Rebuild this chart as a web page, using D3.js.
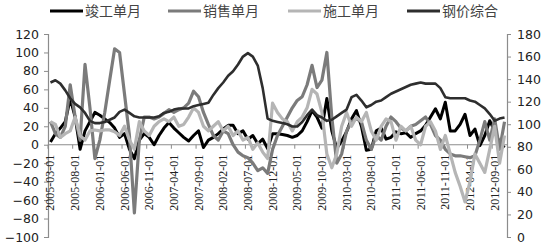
<!DOCTYPE html>
<html>
<head>
<meta charset="utf-8">
<script src="https://cdn.jsdelivr.net/npm/d3@7"></script>
<style>
  body { margin: 0; background: #fff; }
  svg { display: block; }
</style>
</head>
<body>
<svg id="svg"></svg>
<script>
// monthly categories 2005-03 .. 2012-11
const months = [];
for (let y = 2005, m = 3; y < 2012 || (y === 2012 && m <= 11); m++) {
  if (m > 12) { m = 1; y++; }
  months.push(`${y}-${String(m).padStart(2, "0")}-01`);
}

const seriesNames = ["竣工单月", "销售单月", "施工单月", "钢价综合"];

const completion = [3, 12, 18, 25, 50, 30, -5, 15, 25, 35, 32, 28, 24, 18, 8, 12, -5, -15, 5, 12,
  8, 0, 10, 18, 24, 18, 13, 8, 4, 10, 15, -3, 5, 8, 12, 17, 21, 21, 12, 15,
  6, 10, 1, 6, -4, 12, 12, 11, 10, 8, 10, 15, 25, 37, 30, 18, 50, 15, -4, 4,
  14, 28, 37, 20, -6, -5, 15, 18, 6, 8, 14, 12, 13, 8, 12, 15, 21, 30, 39, 28,
  46, 15, 15, 22, 33, 10, 17, -1, 10, 26, 15, 2, -3];

const sales = [25, 12, 8, 20, 65, 30, 5, 87, 40, -15, 5, 35, 70, 104, 100, 55, 10, -74, 5, 30,
  30, 28, 30, 34, 38, 35, 38, 40, 45, 58, 52, 35, 22, 10, 5, 15, 12, 0, -8, -12,
  -14, -20, -28, -25, -31, -5, 10, 20, 30, 40, 48, 52, 65, 86, 62, 70, 100, 30, -20, -10,
  15, 25, 28, 25, 5, -5, 10, 5, 20, 30, 25, 18, 15, 20, 22, 26, 30, 22, 10, 5,
  -5, -10, -12, -12, -13, -14, -12, 5, 25, 5, 28, -5, 25];

const construction = [25, 22, 8, 12, 15, 30, 10, 5, 15, 16, 15, 16, 16, 14, 10, 20, 5, -5, 25, 15,
  10, 20, 25, 28, 25, 30, 20, 22, 30, 40, 35, 20, 15, 20, 25, 15, 20, 10, 15, 5,
  8, -5, 2, -8, -15, 45, 35, 28, 25, 15, 25, 30, 40, 60, 55, 35, -10, -25, -10, 20,
  35, 20, 30, 25, 35, 15, 5, 20, 28, 25, 5, 20, 15, 20, 5, 0, 20, 25, 15, -5,
  10, -10, -30, -45, -62, -40, -10, -20, -30, -5, 20, -20, 10];

const steel = [137, 139, 136, 130, 123, 118, 115, 110, 103, 101, 101, 102, 104, 106, 111, 113, 110, 107, 106, 106,
  106, 106, 107, 110, 111, 113, 114, 114, 114, 116, 117, 118, 119, 126, 132, 137, 143, 147, 153, 160,
  163, 160, 152, 132, 105, 103, 102, 101, 100, 98, 98, 102, 108, 113, 108, 106, 103, 104, 107, 110,
  113, 124, 126, 121, 115, 117, 120, 121, 124, 127, 129, 131, 133, 135, 136, 137, 136, 136, 136, 132,
  124, 123, 123, 123, 123, 121, 120, 117, 114, 109, 103, 105, 106];

const leftTicks = [-100, -80, -60, -40, -20, 0, 20, 40, 60, 80, 100, 120];
const rightTicks = [0, 20, 40, 60, 80, 100, 120, 140, 160, 180];

const layout = { width: 550, height: 244, left: 48, right: 507, top: 34, bottom: 237 };

const svg = d3.select("#svg").attr("width", layout.width).attr("height", layout.height);

const x = d3.scaleBand().domain(months).range([layout.left, layout.right]).padding(0);
const yL = d3.scaleLinear().domain([-100, 120]).range([layout.bottom, layout.top]);
const yR = d3.scaleLinear().domain([0, 180]).range([layout.bottom, layout.top]);
const cx = d => x(d) + x.bandwidth() / 2;

const axisColor = "#8c8c8c";
const numFont = "DejaVu Sans";

// left axis
const gL = svg.append("g").attr("transform", `translate(${layout.left},0)`)
  .call(d3.axisLeft(yL).tickValues(leftTicks).tickSize(4).tickPadding(5));
gL.select(".domain").attr("stroke", axisColor).attr("stroke-width", 1.2);
gL.selectAll(".tick line").attr("stroke", axisColor);
gL.selectAll("text").attr("font-family", numFont).attr("font-size", 12.5).attr("fill", "#222");

// right axis
const gR = svg.append("g").attr("transform", `translate(${layout.right},0)`)
  .call(d3.axisRight(yR).tickValues(rightTicks).tickSize(4).tickPadding(6));
gR.select(".domain").attr("stroke", axisColor).attr("stroke-width", 1.2);
gR.selectAll(".tick line").attr("stroke", axisColor);
gR.selectAll("text").attr("font-family", numFont).attr("font-size", 12.5).attr("fill", "#222");

// category axis at left zero
const zeroY = yL(0);
svg.append("line").attr("x1", layout.left).attr("x2", layout.right)
  .attr("y1", zeroY).attr("y2", zeroY).attr("stroke", axisColor).attr("stroke-width", 1.2);
svg.append("g").selectAll("line")
  .data(months.filter((d, i) => i % 5 === 0))
  .join("line")
  .attr("x1", d => x(d)).attr("x2", d => x(d))
  .attr("y1", zeroY).attr("y2", zeroY + 4)
  .attr("stroke", axisColor);

svg.append("g").selectAll("text")
  .data(months.filter((d, i) => i % 5 === 0))
  .join("text")
  .attr("transform", d => `translate(${cx(d) + 4},${zeroY + 10}) rotate(-90)`)
  .attr("text-anchor", "end")
  .attr("font-family", "Liberation Serif")
  .attr("font-size", 12)
  .attr("fill", "#222")
  .text(d => d);

// series
const series = [
  { name: seriesNames[0], values: completion, scale: yL, color: "#000000", width: 3 },
  { name: seriesNames[1], values: sales, scale: yL, color: "#7b7b7b", width: 3.2 },
  { name: seriesNames[2], values: construction, scale: yL, color: "#b5b5b5", width: 3.2 },
  { name: seriesNames[3], values: steel, scale: yR, color: "#2e2e2e", width: 2.6 }
];

series.forEach(s => {
  const line = d3.line().x((v, i) => cx(months[i])).y(v => s.scale(v));
  svg.append("path")
    .datum(s.values)
    .attr("fill", "none")
    .attr("stroke", s.color)
    .attr("stroke-width", s.width)
    .attr("stroke-linejoin", "round")
    .attr("d", line);
});

// legend
const legendX = [50, 168, 288, 407];
const legend = svg.append("g").selectAll("g")
  .data(series)
  .join("g")
  .attr("transform", (d, i) => `translate(${legendX[i]},11)`);
legend.append("line").attr("x1", 0).attr("x2", 33).attr("y1", 0).attr("y2", 0)
  .attr("stroke", d => d.color).attr("stroke-width", 3);
legend.append("text").attr("x", 35).attr("y", 5)
  .attr("font-family", "Noto Sans CJK SC").attr("font-size", 14)
  .attr("fill", "#444")
  .text(d => d.name);
</script>
</body>
</html>
